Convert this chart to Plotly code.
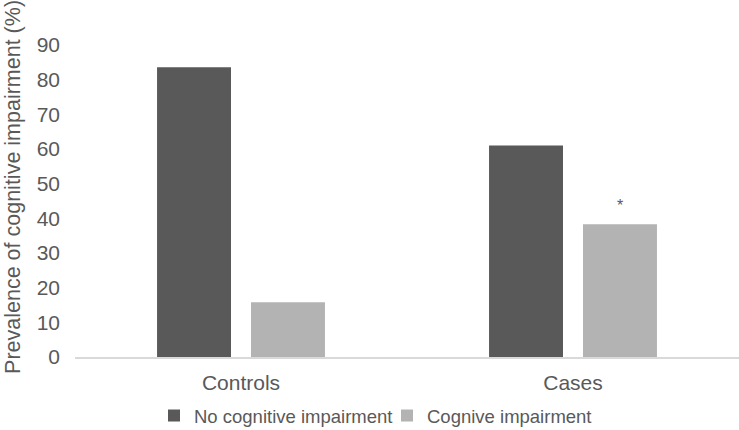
import plotly.graph_objects as go

categories = ["Controls", "Cases"]
series_names = ["No cognitive impairment", "Cognive impairment"]
no_impairment = [83.6, 61.0]
impairment = [15.8, 38.3]
y_ticks = [0, 10, 20, 30, 40, 50, 60, 70, 80, 90]
significance_label = "*"
significance_category = "Cases"
colors = ["#595959", "#b3b3b3"]

FONT = "Liberation Sans, Arial, sans-serif"
TXT = "#595959"
W, H = 739, 430

fig = go.Figure()
fig.add_trace(go.Bar(x=categories, y=no_impairment, name=series_names[0],
                     marker=dict(color=colors[0], line=dict(width=0)), legend="legend"))
fig.add_trace(go.Bar(x=categories, y=impairment, name=series_names[1],
                     marker=dict(color=colors[1], line=dict(width=0)), legend="legend2"))

# significance asterisk above the light bar of Cases
fig.add_annotation(x=significance_category, y=impairment[categories.index(significance_category)],
                   text=significance_label, showarrow=False, xref="x", yref="y",
                   xshift=47, yanchor="bottom", yshift=8,
                   font=dict(family=FONT, size=16, color=TXT))

# y-axis title as rotated annotation
fig.add_annotation(text="Prevalence of cognitive impairment (%)", textangle=-90,
                   xref="paper", yref="paper", x=0, y=0.545, xshift=-62,
                   xanchor="center", yanchor="middle", showarrow=False,
                   font=dict(family=FONT, size=21.5, color=TXT))

leg_common = dict(orientation="h", xref="container", xanchor="left",
                  yref="container", y=0.0326, yanchor="middle",
                  font=dict(family=FONT, size=18.5, color=TXT),
                  itemwidth=30, bgcolor="rgba(0,0,0,0)")

fig.update_layout(
    width=W, height=H,
    margin=dict(l=75, r=0, t=45, b=73),
    paper_bgcolor="white", plot_bgcolor="white",
    barmode="group", bargap=0.434, bargroupgap=0.213,
    font=dict(family=FONT, color=TXT),
    showlegend=True,
    legend=dict(x=154 / W, **leg_common),
    legend2=dict(x=387 / W, **leg_common),
    xaxis=dict(showgrid=False, showline=True, linecolor="#d9d9d9", linewidth=1.5,
               ticks="", tickfont=dict(family=FONT, size=21, color=TXT),
               ticklabelstandoff=6, zeroline=False),
    yaxis=dict(range=[0, 90], tickvals=y_ticks, showgrid=False, showline=False,
               zeroline=False, ticks="", tickfont=dict(family=FONT, size=21, color=TXT),
               ticklabelstandoff=14),
)

fig.write_html("out.html", config={"displayModeBar": False},
               post_script="document.body.style.margin='0';")
